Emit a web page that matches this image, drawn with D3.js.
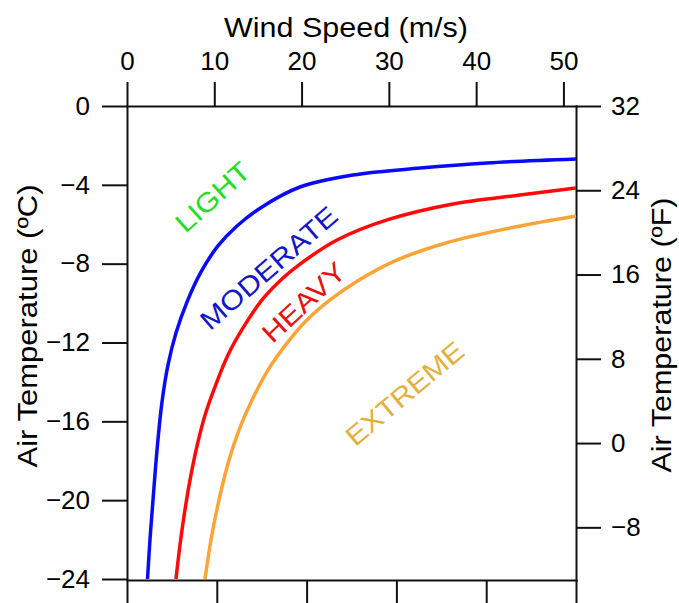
<!DOCTYPE html>
<html lang="en">
<head>
  <meta charset="UTF-8">
  <title>Icing Severity vs Wind Speed and Air Temperature</title>
  <style>
  body { margin: 0; background: #fff; }
  svg { display: block; font-family: "Liberation Sans", Arial, sans-serif; }
  .axis text { font-size: 26px; fill: #000; }
  .axis path, .axis line { stroke: #111; stroke-width: 2; }
  .title { font-size: 27px; fill: #000; }
  .curve { fill: none; stroke-width: 3.5; stroke-linejoin: round; }
  .zone { font-size: 27px; }
  </style>
</head>
<body>
<svg id="chart"></svg>
<script src="https://cdn.jsdelivr.net/npm/d3@7"></script>
<script>
// Boundary curves: wind speed (m/s) and air temperature (C)
const lightWind = [2.35, 2.63, 2.98, 3.44, 4.01, 4.70, 5.61, 6.87, 8.48, 10.42, 12.60, 15.47, 19.82, 25.89, 33.57, 41.24, 51.44];
const lightTemp = [-24, -22.02, -19.99, -17.45, -15.02, -13.14, -11.52, -9.95, -8.42, -7.10, -6.09, -5.12, -4.11, -3.50, -3.15, -2.89, -2.69];

const moderateWind = [5.61, 6.07, 6.64, 7.33, 8.13, 9.05, 10.20, 11.57, 13.29, 15.47, 17.87, 19.82, 24.06, 29.79, 37.35, 45.02, 51.44];
const moderateTemp = [-24, -22.28, -20.50, -18.72, -17.05, -15.53, -14.11, -12.63, -11.26, -9.84, -8.73, -8.02, -6.80, -5.78, -4.97, -4.52, -4.16];

const heavyWind = [8.94, 9.62, 10.54, 11.69, 12.83, 14.32, 16.15, 18.33, 20.62, 23.26, 26.23, 30.70, 36.54, 44.45, 51.44];
const heavyTemp = [-24, -22.02, -19.99, -17.96, -16.44, -14.92, -13.40, -12.03, -10.86, -9.84, -8.93, -7.86, -6.95, -6.14, -5.58];

// Axis ticks
const windTicks = [0, 10, 20, 30, 40, 50];
const knotTicks = [0, 20, 40, 60, 80, 100];
const celsiusTicks = [0, -4, -8, -12, -16, -20, -24];
const fahrenheitTicks = [32, 24, 16, 8, 0, -8];

// Zone names
const zoneNames = ["LIGHT", "MODERATE", "HEAVY", "EXTREME"];

const W = 679, H = 603;
const plot = { left: 127, right: 576, top: 106, bottom: 580 };

const svg = d3.select("#chart").attr("width", W).attr("height", H);

const xMs = d3.scaleLinear().domain([0, 51.44]).range([plot.left, plot.right]);
const xKt = d3.scaleLinear().domain([0, 100]).range([plot.left, plot.right]);
const yC = d3.scaleLinear().domain([0, -24]).range([plot.top, 579]);
const yF = d3.scaleLinear().domain([32, -13]).range([plot.top, plot.bottom]);

// axes
svg.append("g").attr("class", "axis")
  .attr("transform", `translate(0,${plot.top})`)
  .call(d3.axisTop(xMs).tickValues(windTicks).tickSize(24).tickSizeOuter(0).tickPadding(12));

svg.append("g").attr("class", "axis")
  .attr("transform", `translate(0,${plot.bottom})`)
  .call(d3.axisBottom(xKt).tickValues(knotTicks).tickSize(24).tickSizeOuter(0).tickFormat(""));

svg.append("g").attr("class", "axis")
  .attr("transform", `translate(${plot.left},0)`)
  .call(d3.axisLeft(yC).tickValues(celsiusTicks).tickSize(25).tickSizeOuter(0).tickPadding(12));

svg.append("g").attr("class", "axis")
  .attr("transform", `translate(${plot.right},0)`)
  .call(d3.axisRight(yF).tickValues(fahrenheitTicks).tickSize(25).tickSizeOuter(0).tickPadding(10));

svg.selectAll(".axis .domain").attr("stroke-linecap", "square");

// axis titles
svg.append("text").attr("class", "title")
  .attr("x", 346).attr("y", 37)
  .attr("text-anchor", "middle")
  .attr("textLength", 244).attr("lengthAdjust", "spacingAndGlyphs")
  .text("Wind Speed (m/s)");

svg.append("text").attr("class", "title")
  .attr("transform", "translate(28,326) rotate(-90)")
  .attr("text-anchor", "middle").attr("dominant-baseline", "central")
  .attr("textLength", 283).attr("lengthAdjust", "spacingAndGlyphs")
  .text("Air Temperature (ºC)");

svg.append("text").attr("class", "title")
  .attr("transform", "translate(662,335) rotate(-90)")
  .attr("text-anchor", "middle").attr("dominant-baseline", "central")
  .attr("textLength", 275).attr("lengthAdjust", "spacingAndGlyphs")
  .text("Air Temperature (ºF)");

// curves
const curves = [
  { wind: lightWind, temp: lightTemp, color: "#0a0af5" },
  { wind: moderateWind, temp: moderateTemp, color: "#ff0a0a" },
  { wind: heavyWind, temp: heavyTemp, color: "#fca438" }
];

const line = d3.line()
  .x(d => xMs(d[0]))
  .y(d => yC(d[1]))
  .curve(d3.curveCatmullRom.alpha(0.5));

svg.selectAll(".curve")
  .data(curves)
  .enter().append("path")
  .attr("class", "curve")
  .attr("stroke", d => d.color)
  .attr("d", d => line(d3.zip(d.wind, d.temp)));

// zone labels (placed in data units)
const zoneStyle = [
  { w: 9.85, t: -4.63, angle: -42, color: "#22dd22", len: 90 },
  { w: 16.27, t: -8.24, angle: -41, color: "#1515c8", len: 172 },
  { w: 20.28, t: -9.97, angle: -43, color: "#e81010", len: 103 },
  { w: 31.85, t: -14.6, angle: -40, color: "#e2b040", len: 145 }
];

svg.selectAll(".zone")
  .data(zoneNames)
  .enter().append("text")
  .attr("class", "zone")
  .attr("transform", (d, i) => `translate(${xMs(zoneStyle[i].w)},${yC(zoneStyle[i].t)}) rotate(${zoneStyle[i].angle})`)
  .attr("text-anchor", "middle").attr("dominant-baseline", "central")
  .attr("fill", (d, i) => zoneStyle[i].color)
  .attr("textLength", (d, i) => zoneStyle[i].len).attr("lengthAdjust", "spacingAndGlyphs")
  .text(d => d);
</script>
</body>
</html>
